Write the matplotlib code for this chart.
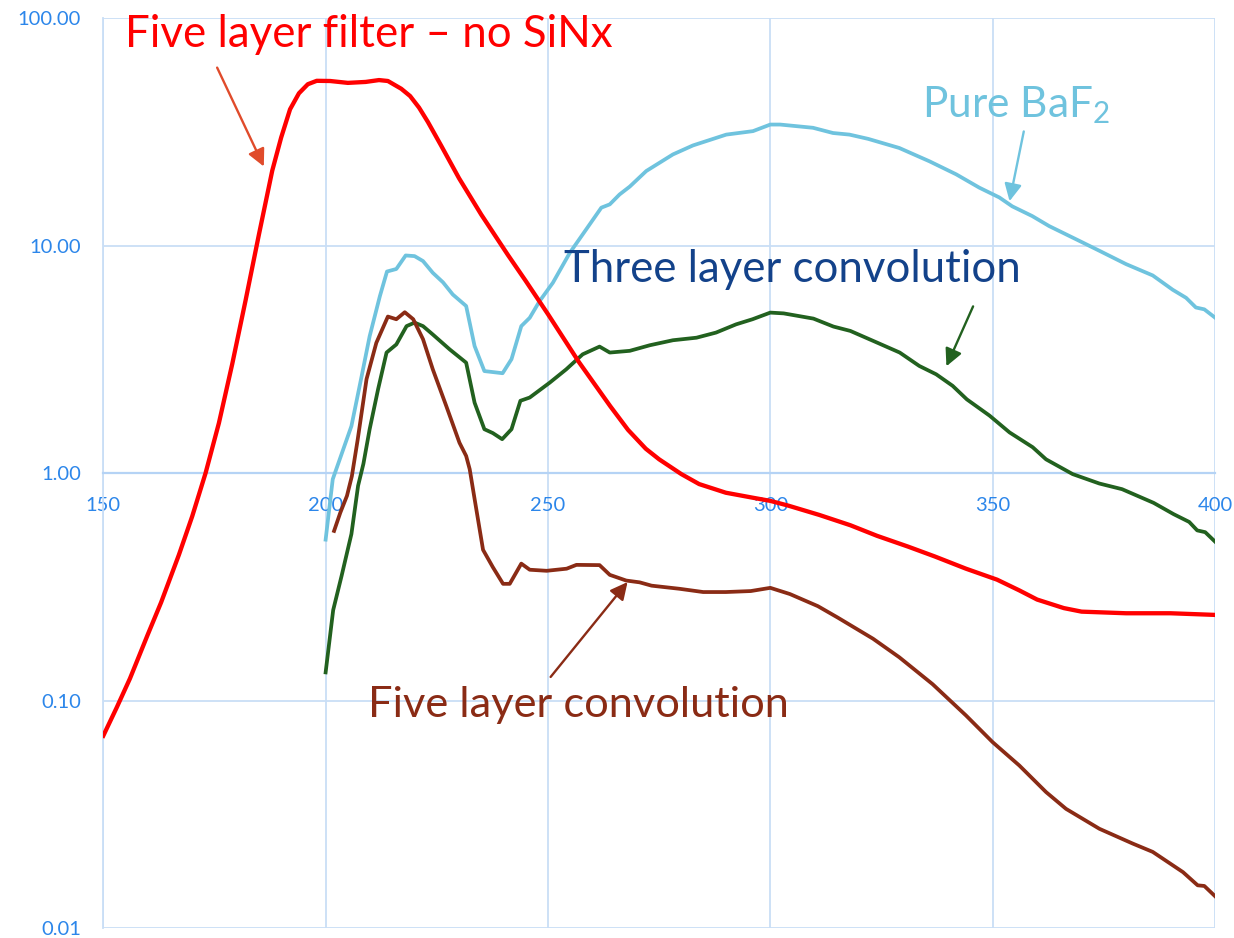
import matplotlib
matplotlib.use("Agg")
import matplotlib.pyplot as plt
from matplotlib.ticker import FixedLocator, NullLocator

plt.rcParams['font.family'] = ['Lato', 'DejaVu Sans']
plt.rcParams['mathtext.default'] = 'regular'

# Wavelength (nm) and transmission (%) for each curve
filter5_x = [150, 153, 156, 160, 163, 167, 170, 173, 176, 179, 182, 185, 188, 190,
             192, 194, 196, 198, 201, 205, 209, 212, 214, 217, 219, 221, 223, 226,
             230, 235, 241, 245, 250, 257, 264, 268, 272, 275, 280, 284, 290, 296,
             300, 304, 311, 318, 324, 331, 337, 344, 351, 356, 360, 366, 370, 380,
             390, 400]
filter5_y = [0.070, 0.093, 0.125, 0.195, 0.27, 0.437, 0.646, 1.0, 1.66, 3.02, 5.75,
             11.2, 21.4, 29.9, 39.8, 46.8, 51.3, 53.1, 53.0, 52.0, 52.5, 53.5, 53.0,
             49.0, 45.5, 40.5, 35.0, 27.5, 19.8, 13.7, 9.1, 7.0, 5.0, 3.07, 1.97,
             1.55, 1.28, 1.15, 0.99, 0.895, 0.82, 0.78, 0.755, 0.72, 0.655, 0.59,
             0.53, 0.475, 0.43, 0.38, 0.34, 0.305, 0.278, 0.255, 0.246, 0.242, 0.242,
             0.238]

baf2_x = [200, 201.6, 205.8, 208.1, 209.9, 212.2, 213.8, 215.9, 218.0, 220.0, 221.9,
          224.1, 226.4, 228.6, 231.6, 233.5, 235.7, 239.8, 241.8, 244.0, 245.9,
          248.1, 251.1, 254.9, 258.6, 262.0, 263.9, 266.1, 268.4, 272.1, 278.1,
          282.6, 290.1, 296.1, 300.0, 302.2, 309.6, 314.1, 317.8, 322.0, 329.0,
          335.8, 341.8, 347.0, 351.5, 354.4, 358.9, 362.7, 369.5, 374.0, 380.0,
          386.0, 390.5, 393.5, 395.7, 397.6, 400.0]
baf2_y = [0.51, 0.94, 1.61, 2.67, 4.0, 6.0, 7.7, 7.9, 9.06, 9.0, 8.56, 7.6, 6.9, 6.1,
          5.43, 3.62, 2.81, 2.75, 3.17, 4.43, 4.82, 5.7, 6.87, 9.3, 11.8, 14.7,
          15.2, 16.8, 18.2, 21.3, 25.2, 27.6, 30.8, 31.9, 34.1, 34.1, 33.0, 31.3,
          30.8, 29.5, 26.9, 23.5, 20.6, 18.0, 16.3, 14.9, 13.5, 12.2, 10.5, 9.5,
          8.3, 7.4, 6.4, 5.9, 5.35, 5.25, 4.83]

conv3_x = [200, 201.7, 203.6, 205.8, 207.3, 208.5, 209.9, 211.8, 213.7, 215.9, 218.2,
           220.0, 221.9, 224.1, 227.9, 231.6, 233.5, 235.7, 237.6, 239.7, 241.8,
           243.8, 245.9, 250.4, 254.1, 257.8, 261.6, 263.9, 268.4, 272.9, 278.1,
           283.4, 287.8, 292.3, 296.0, 300.0, 303.0, 309.7, 314.2, 318.0, 324.0,
           329.1, 333.5, 337.3, 341.0, 344.2, 349.3, 353.8, 359.0, 362.0, 368.0,
           374.0, 379.1, 386.2, 390.7, 394.2, 396.0, 397.8, 400.0]
conv3_y = [0.133, 0.25, 0.354, 0.54, 0.88, 1.1, 1.56, 2.34, 3.39, 3.68, 4.43, 4.59,
           4.43, 4.07, 3.5, 3.06, 2.04, 1.56, 1.5, 1.41, 1.56, 2.08, 2.15, 2.5, 2.86,
           3.33, 3.6, 3.39, 3.45, 3.65, 3.84, 3.94, 4.15, 4.51, 4.75, 5.08, 5.04,
           4.78, 4.41, 4.22, 3.75, 3.39, 2.96, 2.72, 2.42, 2.11, 1.79, 1.51, 1.3,
           1.15, 0.99, 0.9, 0.85, 0.74, 0.66, 0.61, 0.56, 0.55, 0.50]

conv5_x = [201.9, 203.3, 204.8, 205.9, 207.2, 209.2, 211.4, 214.0, 215.9, 217.8,
           219.7, 221.9, 224.1, 227.1, 230.1, 231.6, 232.4, 233.5, 235.4, 237.6,
           239.9, 241.4, 244.0, 245.9, 249.7, 254.2, 256.4, 261.6, 263.9, 267.6,
           270.6, 273.3, 279.6, 284.9, 290.0, 295.6, 300.0, 304.4, 310.7, 315.1,
           323.1, 329.0, 336.5, 344.0, 350.0, 356.0, 362.0, 366.5, 374.0, 381.5,
           386.0, 392.8, 396.1, 397.6, 400.0]
conv5_y = [0.557, 0.67, 0.795, 0.97, 1.4, 2.59, 3.74, 4.88, 4.75, 5.1, 4.75, 3.88,
           2.86, 1.98, 1.36, 1.19, 1.04, 0.77, 0.46, 0.386, 0.326, 0.326, 0.40,
           0.376, 0.372, 0.38, 0.395, 0.394, 0.357, 0.337, 0.331, 0.32, 0.31, 0.30,
           0.30, 0.303, 0.313, 0.294, 0.26, 0.232, 0.187, 0.155, 0.118, 0.086,
           0.0656, 0.0518, 0.0396, 0.0334, 0.0273, 0.0235, 0.0216, 0.0176, 0.0154,
           0.0153, 0.0138]

x_ticks = [150, 200, 250, 300, 350, 400]
y_ticks = [0.01, 0.1, 1, 10, 100]
y_tick_labels = ['0.01', '0.10', '1.00', '10.00', '100.00']

RED = '#ff0000'
CYAN = '#6fc3de'
GREEN = '#22611f'
BROWN = '#8a2b15'
NAVY = '#13428a'
ARROW_RED = '#e04b2b'
TICK_BLUE = '#2c86ea'
GRID_BLUE = '#c9def6'

fig = plt.figure(figsize=(12.34, 9.38), dpi=100)
ax = fig.add_axes([0.0837, 0.0107, 0.9009, 0.9698])

ax.set_yscale('log')
ax.set_xlim(150, 400)
ax.set_ylim(0.01, 100)

ax.plot(filter5_x, filter5_y, color=RED, lw=3.1, solid_joinstyle='round', zorder=4)
ax.plot(baf2_x, baf2_y, color=CYAN, lw=2.7, solid_joinstyle='round', zorder=3)
ax.plot(conv3_x, conv3_y, color=GREEN, lw=2.7, solid_joinstyle='round', zorder=3)
ax.plot(conv5_x, conv5_y, color=BROWN, lw=2.7, solid_joinstyle='round', zorder=3)

# axes styling: light blue grid, x axis crossing at 1.00
ax.xaxis.set_major_locator(FixedLocator(x_ticks))
ax.yaxis.set_major_locator(FixedLocator(y_ticks))
ax.yaxis.set_minor_locator(NullLocator())
ax.xaxis.set_minor_locator(NullLocator())
ax.set_yticklabels(y_tick_labels)
ax.set_xticklabels([str(v) for v in x_ticks])
ax.grid(True, which='major', color=GRID_BLUE, lw=1.3, zorder=0)
ax.set_axisbelow(True)
for side in ('top', 'right'):
    ax.spines[side].set_visible(False)
ax.spines['left'].set_color(GRID_BLUE)
ax.spines['left'].set_linewidth(1.3)
ax.spines['bottom'].set_position(('data', 1))
ax.spines['bottom'].set_color('#b5d3f5')
ax.spines['bottom'].set_linewidth(1.6)
ax.tick_params(axis='both', length=0, labelsize=14.5, labelcolor=TICK_BLUE)
ax.tick_params(axis='y', pad=16)
ax.tick_params(axis='x', pad=17.5)

# curve annotations
arrow_kw = dict(arrowstyle='-|>', lw=1.7, mutation_scale=26, shrinkA=0, shrinkB=0)
ax.annotate('', xy=(186.1, 22.3), xytext=(175.6, 60.7),
            arrowprops=dict(color=ARROW_RED, **arrow_kw))
ax.annotate('', xy=(353.8, 15.7), xytext=(357.0, 31.8),
            arrowprops=dict(color=CYAN, **arrow_kw))
ax.annotate('', xy=(339.6, 2.95), xytext=(345.6, 5.41),
            arrowprops=dict(color=GREEN, **arrow_kw))
ax.annotate('', xy=(267.9, 0.332), xytext=(250.6, 0.127),
            arrowprops=dict(color=BROWN, **arrow_kw))

ax.text(154.9, 75, 'Five layer filter \u2013 no SiNx', color=RED, fontsize=31.6,
        ha='left', va='baseline')
ax.text(334.0, 36.7, 'Pure BaF$_{2}$', color=CYAN, fontsize=30.5,
        ha='left', va='baseline')
ax.text(253.7, 6.9, 'Three layer convolution', color=NAVY, fontsize=31.5,
        ha='left', va='baseline')
ax.text(209.5, 0.0848, 'Five layer convolution', color=BROWN, fontsize=31.2,
        ha='left', va='baseline')

fig.savefig('out.png', dpi=100)
